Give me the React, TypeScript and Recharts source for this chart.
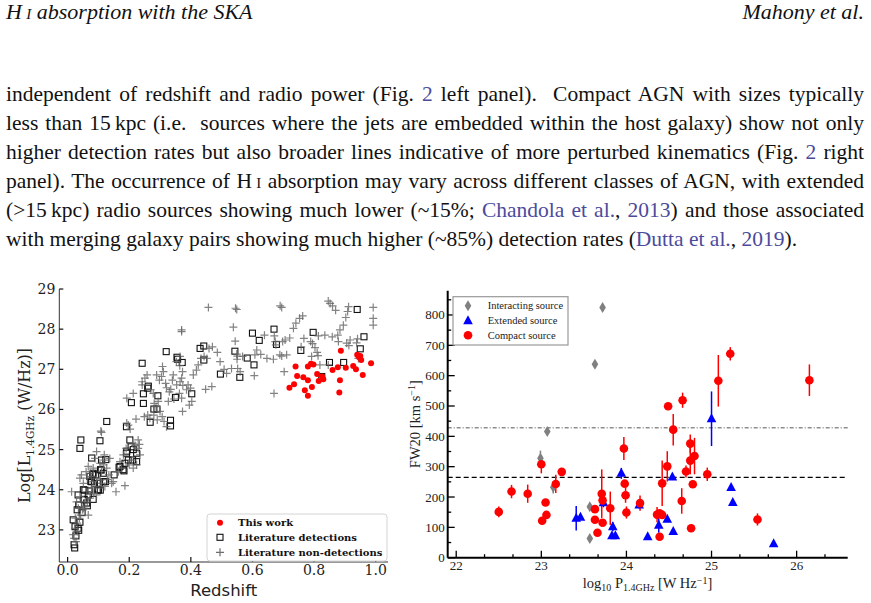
import React from "react";
import { ScatterChart, Scatter, XAxis, YAxis, ReferenceLine, ErrorBar } from "recharts";

// ---------- left panel: redshift vs log L(1.4 GHz) ----------
const thisWork: [number, number][] = [
  [0.72, 26.54], [0.735, 26.63], [0.74, 27.07], [0.745, 26.83], [0.765, 26.8], [0.77, 26.48],
  [0.78, 27.07], [0.78, 26.73], [0.78, 26.34], [0.79, 27.14], [0.793, 26.56], [0.798, 27.12],
  [0.81, 26.88], [0.815, 26.71], [0.826, 26.82], [0.83, 26.75], [0.86, 26.98], [0.877, 27.05],
  [0.882, 26.42], [0.884, 26.73], [0.887, 27.46], [0.903, 27.04], [0.927, 27.08], [0.936, 27.0],
  [0.94, 27.36], [0.95, 27.33], [0.953, 27.23], [0.958, 26.86], [0.985, 27.15], [0.946, 27.3],
];

const litDetections: [number, number][] = [
  [0.021, 22.63], [0.023, 22.55], [0.027, 22.85], [0.024, 23.08], [0.018, 23.25], [0.034, 23.04],
  [0.031, 23.5], [0.04, 25.03], [0.043, 25.24], [0.051, 24.0], [0.054, 23.75], [0.062, 23.67],
  [0.067, 23.87], [0.072, 24.33], [0.078, 24.2], [0.083, 24.41], [0.078, 24.79], [0.1, 24.0],
  [0.103, 24.16], [0.107, 24.5], [0.11, 24.74], [0.116, 24.41], [0.123, 24.2], [0.151, 24.37],
  [0.17, 24.58], [0.18, 24.5], [0.186, 24.66], [0.191, 24.91], [0.202, 25.24], [0.206, 25.07],
  [0.211, 24.74], [0.224, 24.7], [0.191, 25.57], [0.127, 25.7], [0.105, 25.22],
  [0.036, 22.99], [0.04, 23.19], [0.036, 23.62], [0.034, 23.87], [0.047, 23.43], [0.053, 23.76],
  [0.056, 23.99], [0.064, 23.6], [0.07, 23.97], [0.075, 24.21], [0.081, 24.38], [0.083, 23.76],
  [0.087, 24.15], [0.091, 24.37], [0.097, 23.99], [0.106, 23.99], [0.109, 24.49], [0.117, 24.2],
  [0.124, 24.75], [0.167, 24.56], [0.183, 24.47], [0.197, 24.74], [0.213, 25.0], [0.224, 24.91],
  [0.192, 24.96],
  [0.207, 26.17], [0.242, 27.15], [0.246, 26.39], [0.246, 26.15], [0.26, 26.53], [0.262, 26.58],
  [0.268, 25.68], [0.28, 26.01], [0.29, 26.01], [0.293, 26.34], [0.32, 27.44], [0.334, 25.73],
  [0.334, 25.59], [0.35, 26.3], [0.355, 27.3], [0.357, 27.25], [0.372, 27.17], [0.403, 26.39],
  [0.43, 27.52], [0.442, 27.58], [0.442, 27.23], [0.496, 26.88], [0.543, 27.45], [0.559, 26.8],
  [0.583, 27.28], [0.6, 27.9], [0.605, 27.11], [0.622, 27.72], [0.67, 28.0], [0.678, 27.62],
  [0.757, 27.47], [0.797, 27.92], [0.825, 26.82], [0.85, 27.17], [0.896, 27.17], [0.94, 28.49],
  [0.95, 27.51], [0.962, 27.81],
];

const litNonDetections: [number, number][] = [
  // z > 0.4
  [0.457, 28.54], [0.545, 28.52], [0.549, 28.49], [0.69, 28.58], [0.695, 28.54], [0.538, 28.05],
  [0.544, 27.7], [0.549, 27.38], [0.551, 27.33], [0.552, 27.02], [0.55, 27.25], [0.486, 27.42],
  [0.47, 27.56], [0.459, 27.52], [0.495, 27.19], [0.508, 27.0], [0.516, 26.9], [0.532, 27.02],
  [0.56, 26.94], [0.568, 27.32], [0.606, 26.84], [0.608, 27.36], [0.614, 27.48], [0.627, 27.37],
  [0.639, 27.85], [0.647, 27.27], [0.668, 27.25], [0.67, 26.4], [0.676, 27.61], [0.671, 27.83],
  [0.674, 27.69], [0.689, 27.36], [0.695, 27.33], [0.698, 27.69], [0.706, 27.73], [0.721, 27.78],
  [0.733, 28.02], [0.741, 28.15], [0.753, 28.27], [0.763, 28.33], [0.767, 27.77], [0.758, 27.56],
  [0.789, 27.69], [0.795, 27.64], [0.803, 27.54], [0.81, 27.42], [0.813, 27.34], [0.814, 27.83],
  [0.819, 27.11], [0.835, 27.85], [0.846, 28.7], [0.852, 28.64], [0.86, 28.58], [0.87, 28.47],
  [0.859, 27.81], [0.877, 27.85], [0.879, 27.69], [0.884, 27.98], [0.895, 28.1], [0.903, 28.29],
  [0.909, 28.44], [0.912, 28.56], [0.906, 27.65], [0.913, 27.59], [0.917, 27.73], [0.938, 27.66],
  [0.941, 27.76], [0.992, 28.54], [0.992, 28.27], [0.992, 28.1], [0.846, 27.11], [0.792, 27.32],
  [0.703, 26.94], [0.711, 27.36], [0.944, 27.27],
  // 0.2 < z < 0.45
  [0.37, 27.94], [0.37, 27.98], [0.365, 27.32], [0.353, 27.19], [0.364, 27.09], [0.373, 26.94],
  [0.37, 26.78], [0.365, 26.69], [0.374, 26.6], [0.363, 26.4], [0.37, 26.28], [0.373, 25.95],
  [0.345, 26.26], [0.327, 26.2], [0.311, 26.94], [0.308, 27.07], [0.305, 26.82], [0.318, 26.65],
  [0.321, 26.54], [0.33, 26.44], [0.335, 26.5], [0.343, 26.86], [0.34, 26.73], [0.354, 26.61],
  [0.386, 26.49], [0.391, 26.61], [0.399, 26.53], [0.403, 26.2], [0.395, 26.11], [0.408, 26.86],
  [0.418, 26.98], [0.424, 27.11], [0.433, 27.27], [0.443, 27.32], [0.452, 27.27], [0.448, 26.5],
  [0.468, 26.57], [0.278, 26.4], [0.27, 26.49], [0.281, 26.15], [0.287, 26.07], [0.294, 26.2],
  [0.3, 25.95], [0.307, 25.82], [0.313, 25.7], [0.321, 25.57], [0.26, 25.86], [0.249, 25.82],
  [0.267, 25.78], [0.28, 25.86], [0.291, 25.74], [0.242, 26.69], [0.242, 26.61], [0.251, 26.78],
  [0.258, 26.86], [0.289, 26.86], [0.298, 26.73], [0.192, 26.28], [0.213, 26.4], [0.222, 25.76],
  [0.197, 25.61], [0.203, 25.51], [0.192, 25.66], [0.108, 25.46], [0.11, 25.43],
  // z < 0.25
  [0.094, 24.95], [0.089, 24.78], [0.105, 24.66], [0.116, 24.62], [0.137, 24.78], [0.127, 24.54],
  [0.134, 24.37], [0.148, 24.2], [0.157, 23.95], [0.186, 24.1], [0.17, 24.7], [0.181, 24.87],
  [0.19, 25.03], [0.211, 25.16], [0.219, 25.1], [0.229, 25.24], [0.233, 25.13], [0.229, 25.03],
  [0.235, 24.87], [0.208, 24.74], [0.2, 24.62], [0.224, 24.62], [0.213, 24.54], [0.175, 24.54],
  [0.165, 24.45], [0.045, 24.37], [0.04, 24.29], [0.051, 24.16], [0.06, 24.45], [0.064, 24.29],
  [0.073, 24.41], [0.078, 24.33], [0.083, 24.2], [0.094, 24.29], [0.105, 24.24], [0.11, 24.16],
  [0.105, 24.04], [0.094, 23.87], [0.085, 23.91], [0.073, 23.79], [0.064, 23.7], [0.056, 23.58],
  [0.049, 23.5], [0.042, 23.37], [0.038, 23.29], [0.031, 23.17], [0.024, 23.04], [0.018, 22.88],
  [0.021, 22.79], [0.027, 22.71], [0.013, 23.95], [0.029, 23.7], [0.04, 23.83], [0.062, 23.95],
  [0.078, 24.04], [0.089, 24.08], [0.121, 24.08], [0.129, 24.25], [0.143, 24.16], [0.083, 24.54],
  [0.067, 24.58], [0.051, 23.54], [0.045, 23.7], [0.035, 23.54], [0.067, 23.37], [0.032, 22.96],
  [0.025, 23.29], [0.119, 24.87], [0.121, 24.74], [0.11, 24.45],
];

const zTicks = [0, 0.2, 0.4, 0.6, 0.8, 1.0];
const lumTicks = [23, 24, 25, 26, 27, 28, 29];

// ---------- right panel: FW20 vs log P(1.4 GHz), [x, y, error] ----------
const compact: [number, number, number][] = [
  [22.5, 151, 18], [22.65, 218, 22], [22.84, 211, 30], [23.0, 308, 30], [23.01, 122, 0],
  [23.05, 182, 0], [23.06, 141, 0], [23.17, 243, 30], [23.24, 283, 0], [23.63, 160, 0],
  [23.63, 125, 0], [23.66, 82, 0], [23.71, 211, 80], [23.72, 189, 0], [23.72, 115, 0],
  [23.81, 163, 55], [23.97, 360, 38], [23.98, 244, 0], [23.99, 206, 25], [24.0, 149, 20],
  [24.16, 180, 25], [24.36, 142, 25], [24.39, 146, 0], [24.39, 69, 0], [24.42, 141, 0],
  [24.42, 245, 75], [24.48, 301, 50], [24.49, 499, 0], [24.55, 422, 52], [24.65, 187, 42],
  [24.66, 519, 25], [24.7, 284, 20], [24.75, 376, 30], [24.75, 320, 45], [24.76, 97, 0],
  [24.78, 242, 0], [24.8, 335, 60], [24.95, 275, 22], [25.08, 583, 85], [25.22, 672, 22],
  [25.54, 126, 20], [26.15, 585, 52],
];

const extended: [number, number, number][] = [
  [23.41, 130, 40], [23.46, 133, 0], [23.73, 181, 15], [23.84, 102, 15], [23.83, 72, 0],
  [23.87, 72, 0], [23.94, 278, 18], [24.15, 174, 12], [24.25, 69, 0], [24.38, 107, 25],
  [24.48, 127, 0], [24.54, 266, 0], [24.55, 86, 0], [25.0, 458, 90], [25.23, 231, 0],
  [25.25, 182, 0], [25.73, 46, 0],
];

const interacting: [number, number, number][] = [
  [22.99, 328, 25], [23.07, 416, 0], [23.14, 232, 20], [23.57, 168, 0], [23.57, 63, 0],
  [23.63, 638, 0], [23.72, 825, 0],
];

const fwMedianAll = 265;
const fwMedianCompact = 428;

const pMajor = [22, 23, 24, 25, 26];
const pMinor = [22.333, 22.667, 23.333, 23.667, 24.333, 24.667, 25.333, 25.667, 26.333];
const fwMajor = [0, 100, 200, 300, 400, 500, 600, 700, 800];
const fwMinor = [50, 150, 250, 350, 450, 550, 650, 750, 850];

const toXY = (rows: [number, number][]) => rows.map(([x, y]) => ({ x, y }));
const toXYE = (rows: [number, number, number][]) => rows.map(([x, y, err]) => ({ x, y, err }));

type Side = "bottom" | "top" | "left" | "right";

// ticks drawn pointing into the plot, with optional labels on the outer side
function inwardTick(
  side: Side,
  major: number[],
  len: number,
  minorLen: number,
  opts: { fmt?: (v: number) => string; font?: string; size?: number; dx?: number; dy?: number; color?: string; width?: number } = {}
) {
  return (props: any) => {
    const { x, y, payload } = props;
    const v = payload.value as number;
    const isMajor = major.some((m) => Math.abs(m - v) < 1e-6);
    const l = isMajor ? len : minorLen;
    let x2 = x;
    let y2 = y;
    if (side === "bottom") y2 = y - l;
    if (side === "top") y2 = y + l;
    if (side === "left") x2 = x + l;
    if (side === "right") x2 = x - l;
    let label = null;
    if (opts.fmt && isMajor) {
      const common = { fontFamily: opts.font, fontSize: opts.size, fill: "#222" };
      if (side === "bottom")
        label = (
          <text x={x} y={y + (opts.dy ?? 12)} textAnchor="middle" {...common}>
            {opts.fmt(v)}
          </text>
        );
      if (side === "left")
        label = (
          <text x={x - (opts.dx ?? 4)} y={y + (opts.dy ?? 5)} textAnchor="end" {...common}>
            {opts.fmt(v)}
          </text>
        );
    }
    return (
      <g>
        <line x1={x} y1={y} x2={x2} y2={y2} stroke={opts.color ?? "#000"} strokeWidth={opts.width ?? 1.2} />
        {label}
      </g>
    );
  };
}

const plus = (p: any) => (
  <path
    d={`M${p.cx - 4},${p.cy}h8M${p.cx},${p.cy - 4}v8`}
    stroke="#646464"
    strokeWidth={1.2}
    strokeOpacity={0.8}
    fill="none"
  />
);
const square = (p: any) => (
  <rect x={p.cx - 3} y={p.cy - 3} width={6} height={6} fill="none" stroke="#111" strokeWidth={1.1} />
);
const redDot = (p: any) => <circle cx={p.cx} cy={p.cy} r={3} fill="#ff0000" />;

const diamond = (p: any) => (
  <path d={`M${p.cx},${p.cy - 5.5}L${p.cx + 3.3},${p.cy}L${p.cx},${p.cy + 5.5}L${p.cx - 3.3},${p.cy}Z`} fill="#808080" />
);
const triangle = (p: any) => (
  <path d={`M${p.cx},${p.cy - 5.5}L${p.cx + 4.8},${p.cy + 3.5}L${p.cx - 4.8},${p.cy + 3.5}Z`} fill="#0000ff" />
);
const bigDot = (p: any) => <circle cx={p.cx} cy={p.cy} r={4.3} fill="#ff0000" />;

function RedshiftPanel() {
  const tickFont = { font: "DejaVu Serif", size: 14, color: "#111", width: 1.2 };
  return (
    <ScatterChart width={400} height={328} margin={{ top: 14, right: 12, left: 0, bottom: 0 }}>
      <XAxis
        type="number"
        dataKey="x"
        domain={[-0.027, 1.04]}
        ticks={zTicks}
        interval={0}
        allowDataOverflow
        height={41}
        tickSize={0}
        tickMargin={0}
        tickLine={false}
        axisLine={{ stroke: "#333", strokeWidth: 1 }}
        tick={inwardTick("bottom", zTicks, 5, 5, { ...tickFont, fmt: (v) => v.toFixed(1), dy: 13 })}
      />
      <XAxis xAxisId="top" orientation="top" type="number" dataKey="x" domain={[-0.027, 1.04]} allowDataOverflow height={0} tick={false} tickLine={false} axisLine={{ stroke: "#666", strokeWidth: 1 }} />
      <YAxis
        type="number"
        dataKey="y"
        domain={[22.2, 29]}
        ticks={lumTicks}
        interval={0}
        allowDataOverflow
        width={59.3}
        tickSize={0}
        tickMargin={0}
        tickLine={false}
        axisLine={{ stroke: "#333", strokeWidth: 1 }}
        tick={inwardTick("left", lumTicks, 4, 4, { ...tickFont, fmt: (v) => String(v), dx: 4, dy: 5 })}
      />
      <YAxis yAxisId="right" orientation="right" type="number" dataKey="y" domain={[22.2, 29]} allowDataOverflow width={0} tick={false} tickLine={false} axisLine={{ stroke: "#666", strokeWidth: 1 }} />
      <Scatter data={toXY(litDetections)} shape={square} isAnimationActive={false} />
      <Scatter data={toXY(litNonDetections)} shape={plus} isAnimationActive={false} />
      <Scatter data={toXY(thisWork)} shape={redDot} isAnimationActive={false} />
    </ScatterChart>
  );
}

function LinewidthPanel() {
  const allP = [...pMajor, ...pMinor].sort((a, b) => a - b);
  const allFw = [...fwMajor, ...fwMinor].sort((a, b) => a - b);
  const tickFont = { font: "Liberation Serif", size: 13, width: 1.3 };
  const frame = { stroke: "#000", strokeWidth: 2 };
  return (
    <ScatterChart width={471} height={328} margin={{ top: 15.7, right: 23.3, left: 0, bottom: 0 }}>
      <XAxis
        type="number"
        dataKey="x"
        domain={[21.9, 26.6]}
        ticks={allP}
        interval={0}
        allowDataOverflow
        height={45.3}
        tickSize={0}
        tickMargin={0}
        tickLine={false}
        axisLine={frame}
        tick={inwardTick("bottom", pMajor, 7, 3.5, { ...tickFont, fmt: (v) => String(v), dy: 12 })}
      />
      <XAxis
        xAxisId="top"
        orientation="top"
        type="number"
        dataKey="x"
        domain={[21.9, 26.6]}
        ticks={allP}
        interval={0}
        allowDataOverflow
        height={0}
        tickSize={0}
        tickMargin={0}
        tickLine={false}
        axisLine={frame}
        tick={inwardTick("top", pMajor, 7, 3.5, tickFont)}
      />
      <YAxis
        type="number"
        dataKey="y"
        domain={[0, 880]}
        ticks={allFw}
        interval={0}
        allowDataOverflow
        width={47.7}
        tickSize={0}
        tickMargin={0}
        tickLine={false}
        axisLine={frame}
        tick={inwardTick("left", fwMajor, 7, 3.5, { ...tickFont, fmt: (v) => String(v), dx: 3, dy: 4.5 })}
      />
      <YAxis
        yAxisId="right"
        orientation="right"
        type="number"
        dataKey="y"
        domain={[0, 880]}
        ticks={allFw}
        interval={0}
        allowDataOverflow
        width={0}
        tickSize={0}
        tickMargin={0}
        tickLine={false}
        axisLine={frame}
        tick={inwardTick("right", fwMajor, 7, 3.5, tickFont)}
      />
      <ReferenceLine y={fwMedianCompact} stroke="#555" strokeWidth={1} strokeDasharray="4 2 1 2" />
      <ReferenceLine y={fwMedianAll} stroke="#000" strokeWidth={1.3} strokeDasharray="5 3" />
      <Scatter data={toXYE(interacting)} shape={diamond} isAnimationActive={false}>
        <ErrorBar dataKey="err" direction="y" width={0} stroke="#808080" strokeWidth={1.5} />
      </Scatter>
      <Scatter data={toXYE(extended)} shape={triangle} isAnimationActive={false}>
        <ErrorBar dataKey="err" direction="y" width={0} stroke="#0000ff" strokeWidth={1.5} />
      </Scatter>
      <Scatter data={toXYE(compact)} shape={bigDot} isAnimationActive={false}>
        <ErrorBar dataKey="err" direction="y" width={0} stroke="#ff0000" strokeWidth={1.5} />
      </Scatter>
    </ScatterChart>
  );
}

const link: React.CSSProperties = { color: "#4b4b9c" };
const sc: React.CSSProperties = { fontVariant: "small-caps" };

const lineStyle = (top: number, justify: boolean): React.CSSProperties => ({
  position: "absolute",
  left: 6,
  top,
  width: 858,
  lineHeight: "29px",
  whiteSpace: "nowrap",
  wordSpacing: justify ? "-2px" : undefined,
  textAlign: justify ? "justify" : "left",
  textAlignLast: justify ? "justify" : "left",
});

export default function App() {
  return (
    <div
      style={{
        position: "absolute",
        left: 0,
        top: 0,
        width: 871,
        height: 603,
        background: "#fff",
        overflow: "hidden",
        fontFamily: "'Liberation Serif', serif",
        fontSize: 21.5,
        color: "#111",
      }}
    >
      <div style={{ position: "absolute", left: 6, top: -3, lineHeight: "29px", fontStyle: "italic", fontSize: 22 }}>
        H&thinsp;<span style={sc}>i</span> absorption with the SKA
      </div>
      <div style={{ position: "absolute", right: 7, top: -3, lineHeight: "29px", fontStyle: "italic", fontSize: 22 }}>
        Mahony et al.
      </div>

      <div style={lineStyle(80, true)}>
        independent of redshift and radio power (Fig. <span style={link}>2</span> left panel).&nbsp; Compact AGN with sizes typically
      </div>
      <div style={lineStyle(109, true)}>
        less than 15&thinsp;kpc (i.e.&nbsp; sources where the jets are embedded within the host galaxy) show not only
      </div>
      <div style={lineStyle(138, true)}>
        higher detection rates but also broader lines indicative of more perturbed kinematics (Fig. <span style={link}>2</span> right
      </div>
      <div style={lineStyle(167, true)}>
        panel). The occurrence of H&thinsp;<span style={sc}>i</span> absorption may vary across different classes of AGN, with extended
      </div>
      <div style={lineStyle(196, true)}>
        (&gt;15&thinsp;kpc) radio sources showing much lower (~15%; <span style={link}>Chandola et al.</span>, <span style={link}>2013</span>) and those associated
      </div>
      <div style={lineStyle(225, false)}>
        with merging galaxy pairs showing much higher (~85%) detection rates (<span style={link}>Dutta et al.</span>, <span style={link}>2019</span>).
      </div>

      <div style={{ position: "absolute", left: 0, top: 275 }}>
        <RedshiftPanel />
      </div>
      <div style={{ position: "absolute", left: 400, top: 275 }}>
        <LinewidthPanel />
      </div>

      <svg width={871} height={603} style={{ position: "absolute", left: 0, top: 0, pointerEvents: "none" }}>
        {/* left panel labels and legend */}
        <text transform="translate(30,425.5) rotate(-90)" textAnchor="middle" fontFamily="DejaVu Serif" fontSize={16} fill="#222">
          Log[L<tspan fontSize={10.5} dy={4}>1.4GHz</tspan>
          <tspan dy={-4}> (W/Hz)]</tspan>
        </text>
        <text x={223.7} y={596} textAnchor="middle" fontFamily="DejaVu Sans" fontSize={16.5} fill="#222">
          Redshift
        </text>
        <rect x={207} y={514} width={180} height={47} rx={3} fill="#fff" stroke="#d4d4d4" strokeWidth={1} />
        <circle cx={220} cy={522.7} r={3} fill="#ff0000" />
        <rect x={217} y={534.3} width={6} height={6} fill="none" stroke="#111" strokeWidth={1.1} />
        <path d="M216,552.3h8M220,548.3v8" stroke="#6e6e6e" strokeWidth={1.2} />
        <g fontFamily="DejaVu Serif" fontWeight="bold" fontSize={10} fill="#111">
          <text x={238} y={526.3}>This work</text>
          <text x={238} y={540.9}>Literature detections</text>
          <text x={238} y={555.9}>Literature non-detections</text>
        </g>

        {/* right panel labels and legend */}
        <text transform="translate(420,424.2) rotate(-90)" textAnchor="middle" fontFamily="Liberation Serif" fontSize={14.5} fill="#222">
          FW20 [km s<tspan fontSize={10} dy={-5}>−1</tspan>
          <tspan dy={5}>]</tspan>
        </text>
        <text x={647.5} y={588} textAnchor="middle" fontFamily="Liberation Serif" fontSize={14.5} fill="#222">
          log<tspan fontSize={10} dy={3}>10</tspan>
          <tspan dy={-3}> P</tspan>
          <tspan fontSize={10} dy={3}>1.4GHz</tspan>
          <tspan dy={-3}> [W Hz</tspan>
          <tspan fontSize={10} dy={-4}>−1</tspan>
          <tspan dy={4}>]</tspan>
        </text>
        <rect x={453} y={296.7} width={115} height={48.3} fill="#fff" stroke="#999" strokeWidth={1.2} />
        <path d="M468,300.2L471.3,305.7L468,311.2L464.7,305.7Z" fill="#808080" />
        <path d="M468,315.2L472.8,324.2L463.2,324.2Z" fill="#0000ff" />
        <circle cx={468} cy={335.3} r={4.3} fill="#ff0000" />
        <g fontFamily="Liberation Serif" fontSize={10.5} fill="#222">
          <text x={487.7} y={309.2}>Interacting source</text>
          <text x={487.7} y={324.2}>Extended source</text>
          <text x={487.7} y={338.8}>Compact source</text>
        </g>
      </svg>
    </div>
  );
}
